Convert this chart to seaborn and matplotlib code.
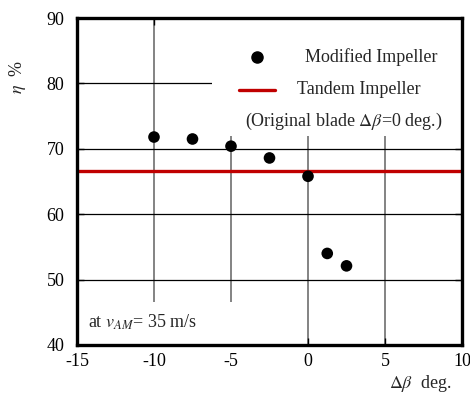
import numpy as np
import matplotlib
matplotlib.use("Agg")
import matplotlib.pyplot as plt
import seaborn as sns
import pandas as pd
from matplotlib.patches import Rectangle

# data
delta_beta = [-10.0, -7.5, -5.0, -2.5, 0.0, 1.25, 2.5]
eta_modified = [71.8, 71.5, 70.4, 68.6, 65.8, 54.0, 52.1]
eta_tandem = 66.6

x_ticks = [-15, -10, -5, 0, 5, 10]
y_ticks = [40, 50, 60, 70, 80, 90]

df = pd.DataFrame({"dbeta": delta_beta, "eta": eta_modified})

sns.set_style("ticks")
plt.rcParams['font.family'] = ['Liberation Serif', 'DejaVu Serif']
plt.rcParams['mathtext.fontset'] = 'stix'

fig = plt.figure(figsize=(4.7, 3.94), dpi=100)
ax = fig.add_axes([0.1638, 0.1244, 0.8192, 0.8299])

ax.set_xlim(-15, 10)
ax.set_ylim(40, 90)
ax.set_xticks(x_ticks)
ax.set_yticks(y_ticks)
ax.set_xticklabels([str(t) for t in x_ticks])
ax.set_yticklabels([str(t) for t in y_ticks])

# grid lines drawn by hand so the ticks can stay on top of the white boxes
for t in x_ticks[1:-1]:
    ax.axvline(t, color='#7a7a7a', lw=1.3, zorder=0.5)
for t in y_ticks[1:-1]:
    ax.axhline(t, color='black', lw=0.9, zorder=0.5)

ax.tick_params(direction='in', top=True, right=True, length=5, width=1,
               labelsize=13, colors='black')
ax.tick_params(axis='y', pad=9)
ax.tick_params(axis='x', pad=6)
for sp in ax.spines.values():
    sp.set_linewidth(2.4)
    sp.set_color('black')
    sp.set_zorder(5)

# white boxes behind legend and note
ax.add_patch(Rectangle((0.35, 0.64), 0.65, 0.36, transform=ax.transAxes,
                       facecolor='white', edgecolor='none', zorder=0.8))
ax.add_patch(Rectangle((0.0, 0.0), 0.52, 0.13, transform=ax.transAxes,
                       facecolor='white', edgecolor='none', zorder=0.8))

ax.axhline(eta_tandem, color='#c00000', lw=2.4, zorder=2)
sns.scatterplot(data=df, x="dbeta", y="eta", ax=ax, color='black', s=70,
                edgecolor='none', zorder=3, legend=False)
ax.set_xlabel("")
ax.set_ylabel("")

# legend drawn by hand
ax.plot([0.468], [0.881], 'o', color='black', ms=8, transform=ax.transAxes, zorder=4)
ax.text(0.592, 0.881, "Modified Impeller", transform=ax.transAxes,
        fontsize=13, va='center', ha='left', zorder=4)
ax.plot([0.421, 0.514], [0.780, 0.780], color='#c00000', lw=2.4,
        transform=ax.transAxes, zorder=4)
ax.text(0.571, 0.780, "Tandem Impeller", transform=ax.transAxes,
        fontsize=13, va='center', ha='left', zorder=4)
ax.text(0.436, 0.685, r"(Original blade $\mathit{\Delta\beta}$=0 deg.)",
        transform=ax.transAxes, fontsize=13, va='center', ha='left', zorder=4)

ax.text(0.029, 0.07, r"at $v_{AM}$= 35 m/s", transform=ax.transAxes,
        fontsize=13, va='center', ha='left', zorder=4)

# axis labels
fig.text(17 / 470, 1 - 77 / 394, r"$\eta$  %", rotation=90, fontsize=13,
         ha='center', va='center')
fig.text(420 / 470, 1 - 384 / 394, r"$\mathit{\Delta\beta}$  deg.", fontsize=13,
         ha='center', va='center')

fig.savefig("out.png", dpi=100)
